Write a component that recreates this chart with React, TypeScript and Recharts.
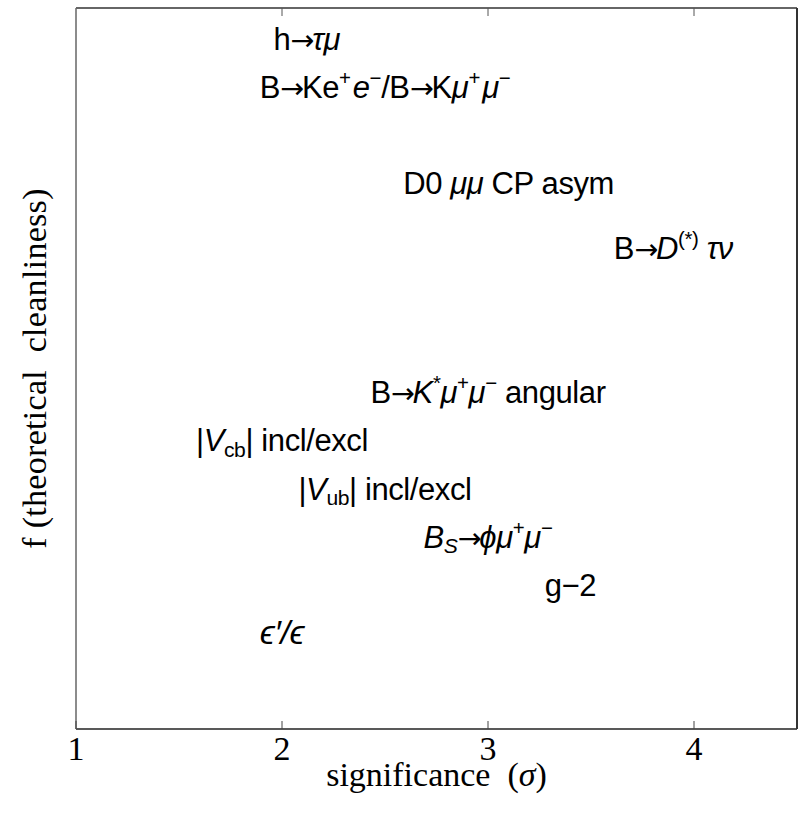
import React from 'react';
import { ScatterChart, Scatter, XAxis, YAxis, Label } from 'recharts';

// ---- data ----
const categories = ['h_tau_mu', 'B_Kee_Kmumu', 'D0_mumu_CP', 'B_Dstar_taunu', 'B_Kstar_angular', 'Vcb', 'Vub', 'Bs_phi_mumu', 'g_minus_2', 'eps_prime'];
const significance = [2.12, 2.5, 3.1, 3.9, 3.0, 2.0, 2.5, 3.0, 3.4, 2.0];
const cleanliness = [14.35, 13.35, 11.35, 10.0, 7.0, 6.0, 5.0, 4.0, 3.0, 2.0];
const xTicks = [1, 2, 3, 4];
const xDomain = [1, 4.5];
const yDomain = [0, 15];
// label pieces: [text, kind] kind: r regular, i italic, a arrow, sup, sub, isub
const labelParts: [string, string][][] = [
  [['h', 'r'], ['→', 'a'], ['τμ', 'i']],
  [['B', 'r'], ['→', 'a'], ['Ke', 'r'], ['+', 'sup'], [' ', 'r'], ['e', 'i'], ['−', 'sup'], ['/B', 'r'], ['→', 'a'], ['K', 'r'], ['μ', 'i'], ['+', 'sup'], [' ', 'r'], ['μ', 'i'], ['−', 'sup']],
  [['D0 ', 'r'], ['μμ', 'i'], [' CP asym', 'r']],
  [['B', 'r'], ['→', 'a'], ['D', 'i'], ['(*)', 'sup'], [' τν', 'i']],
  [['B', 'r'], ['→', 'a'], ['K', 'i'], ['*', 'sup'], ['μ', 'i'], ['+', 'sup'], ['μ', 'i'], ['−', 'sup'], [' angular', 'r']],
  [['|', 'r'], ['V', 'i'], ['cb', 'sub'], ['| incl/excl', 'r']],
  [['|', 'r'], ['V', 'i'], ['ub', 'sub'], ['| incl/excl', 'r']],
  [['B', 'i'], ['S', 'isub'], ['→', 'a'], ['ϕμ', 'i'], ['+', 'sup'], ['μ', 'i'], ['−', 'sup']],
  [['g−2', 'r']],
  [['ϵ′/ϵ', 'i']],
];
const xLabel = ['significance  (', 'σ', ')'];
const yLabel = 'f (theoretical  cleanliness)';

const data = categories.map((c, i) => ({ id: i, name: c, x: significance[i], y: cleanliness[i] }));

const SERIF = '"Liberation Serif", "Times New Roman", serif';
const SANS = '"Liberation Sans", Arial, sans-serif';
const ARROWFONT = '"DejaVu Sans", sans-serif';
const FS = 31;

function renderParts(parts: [string, string][], id: number) {
  let shift = 0;
  return parts.map(([t, k], j) => {
    let target = 0;
    let size = FS;
    let style: string = 'normal';
    let family: string | undefined = undefined;
    let ls: number | undefined = undefined;
    if (k === 'sup') { target = -0.42 * FS; size = 0.66 * FS; }
    if (k === 'sub' || k === 'isub') { target = 0.18 * FS; size = 0.68 * FS; }
    if (k === 'i' || k === 'isub') style = 'italic';
    if (k === 'a') { family = ARROWFONT; size = 0.92 * FS; ls = -2; }
    if (t === ' ' && k === 'r') { size = 0.3 * FS; }
    if (id === 9) size = 1.1 * FS;
    const dy = target - shift;
    shift = target;
    return (
      <tspan key={j} dy={dy} fontSize={size} fontStyle={style} fontFamily={family} letterSpacing={ls}>{t}</tspan>
    );
  });
}

function LabelShape(props: any) {
  const { cx, cy, payload } = props;
  if (cx == null || cy == null) return null;
  const parts = labelParts[payload.id];
  return (
    <text x={cx} y={cy + 0.35 * FS} textAnchor="middle" fontFamily={SANS} fontSize={FS} fill="#000" letterSpacing={-0.4} style={{ whiteSpace: 'pre' }}>
      {renderParts(parts, payload.id)}
    </text>
  );
}

function BottomTick(props: any) {
  const { x, y, payload } = props;
  return (
    <g>
      <line x1={x} x2={x} y1={y} y2={y - 8} stroke="#444" strokeWidth={1} />
      <text x={x} y={y + 31} textAnchor="middle" fontFamily={SERIF} fontSize={34} fill="#000">{payload.value}</text>
    </g>
  );
}

function TopTick(props: any) {
  const { x, y, payload } = props;
  if (payload.value === xDomain[0]) return <g />;
  return <line x1={x} x2={x} y1={y} y2={y + 8} stroke="#555" strokeWidth={1} />;
}

function XLabelContent(props: any) {
  const vb = props.viewBox || { x: 76, y: 729, width: 721, height: 90 };
  return (
    <text x={vb.x + vb.width / 2} y={vb.y + 57} textAnchor="middle" fontFamily={SERIF} fontSize={34} fill="#000" style={{ whiteSpace: 'pre' }}>
      <tspan>{xLabel[0]}</tspan><tspan fontStyle="italic">{xLabel[1]}</tspan><tspan>{xLabel[2]}</tspan>
    </text>
  );
}

function YLabelContent(props: any) {
  const vb = props.viewBox || { x: 75, y: 8, width: 1, height: 721 };
  const cx = 46;
  const cy = vb.y + vb.height / 2;
  return (
    <text x={cx} y={cy} textAnchor="middle" fontFamily={SERIF} fontSize={34} fill="#000" letterSpacing={0.3} transform={`rotate(-90, ${cx}, ${cy})`} style={{ whiteSpace: 'pre' }}>
      {yLabel}
    </text>
  );
}

export default function App() {
  return (
    <div style={{ position: 'absolute', left: 0, top: 0, width: 802, height: 819, background: '#fff' }}>
      <ScatterChart width={802} height={819} margin={{ top: 7, right: 4, left: 75, bottom: 0 }}>
        <XAxis xAxisId={0} dataKey="x" type="number" domain={xDomain} ticks={xTicks} height={90}
          axisLine={{ stroke: '#222', strokeWidth: 1.5 }} tickLine={false} tickSize={0} tickMargin={0}
          tick={<BottomTick />} interval={0} allowDataOverflow>
          <Label content={<XLabelContent />} />
        </XAxis>
        <XAxis xAxisId="top" orientation="top" dataKey="x" type="number" domain={xDomain} ticks={xTicks} height={1}
          axisLine={{ stroke: '#666', strokeWidth: 2 }} tickLine={false} tickSize={0} tickMargin={0}
          tick={<TopTick />} interval={0} allowDataOverflow />
        <YAxis yAxisId={0} dataKey="y" type="number" domain={yDomain} width={1}
          axisLine={{ stroke: '#666', strokeWidth: 1.5 }} tickLine={false} tick={false} allowDataOverflow>
          <Label content={<YLabelContent />} />
        </YAxis>
        <YAxis yAxisId="right" orientation="right" dataKey="y" type="number" domain={yDomain} width={1}
          axisLine={{ stroke: '#333', strokeWidth: 2 }} tickLine={false} tick={false} allowDataOverflow />
        <Scatter data={data} xAxisId={0} yAxisId={0} shape={<LabelShape />} isAnimationActive={false} />
        <Scatter data={[]} xAxisId="top" yAxisId="right" isAnimationActive={false} />
      </ScatterChart>
    </div>
  );
}
